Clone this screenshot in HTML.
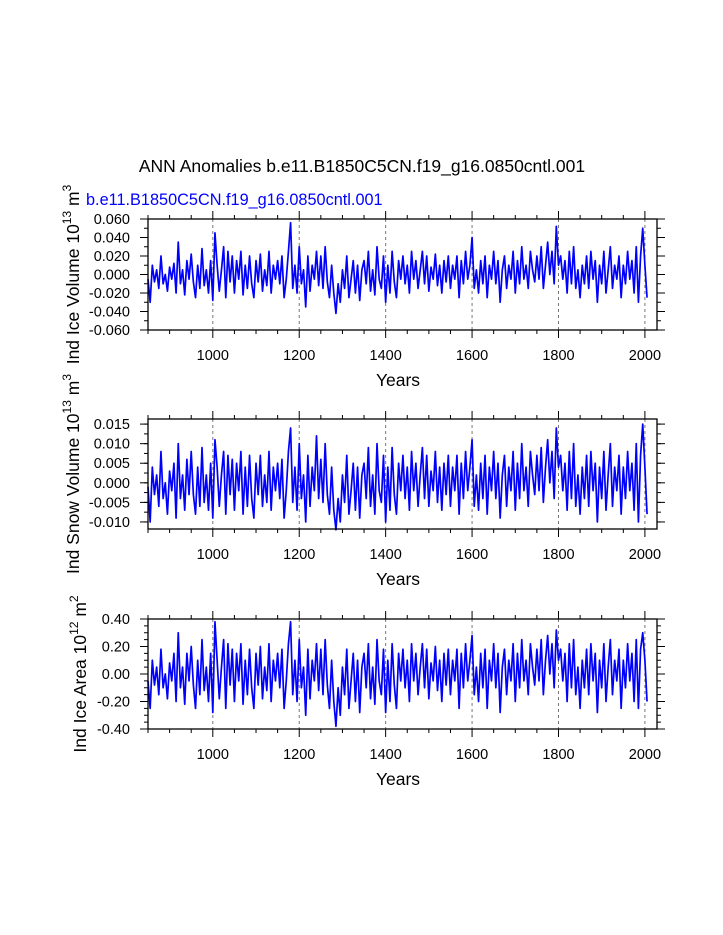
<!DOCTYPE html>
<html><head><meta charset="utf-8"><style>
html,body{margin:0;padding:0;background:#fff;}
svg{display:block;font-family:"Liberation Sans",Arial,sans-serif;}
</style></head><body>
<svg id="chart" width="723" height="935" viewBox="0 0 723 935" xmlns="http://www.w3.org/2000/svg">
<text x="362" y="172" font-size="17.5" text-anchor="middle">ANN Anomalies b.e11.B1850C5CN.f19_g16.0850cntl.001</text>
<text x="86" y="205" font-size="16.3" fill="#0000ff">b.e11.B1850C5CN.f19_g16.0850cntl.001</text>
<g id="panels"></g>
</svg>
<script>
const startYear = 850;
const stepYears = 5;
const xTicks = [1000,1200,1400,1600,1800,2000];
const iceVolTicks = [0.06,0.04,0.02,0,-0.02,-0.04,-0.06];
const iceVolLabels = ["0.060","0.040","0.020","0.000","-0.020","-0.040","-0.060"];
const snowTicks = [0.015,0.01,0.005,0,-0.005,-0.01];
const snowLabels = ["0.015","0.010","0.005","0.000","-0.005","-0.010"];
const areaTicks = [0.4,0.2,0,-0.2,-0.4];
const areaLabels = ["0.40","0.20","0.00","-0.20","-0.40"];
// values in thousandths
const iceVolume = [-5,-30,10,-8,5,-15,20,-10,0,-18,8,-5,12,-20,35,-10,5,-22,15,-5,
22,-8,-25,10,-15,28,-12,5,-20,15,-28,45,10,-18,5,30,-25,25,-8,20,
-20,15,-5,25,-22,10,-15,20,-10,-25,15,-8,22,-18,5,-12,25,-20,10,-5,
15,-10,20,-25,-5,25,56,-15,10,-20,30,-10,5,-35,20,-18,10,-5,25,-12,
20,-15,30,-8,-25,10,-20,-42,-10,-30,5,-15,20,-25,-5,15,-20,10,-28,5,
15,-10,25,-18,5,-22,30,-5,-15,20,-30,10,-20,25,-8,-25,15,-5,20,-10,
10,-20,25,-5,15,-15,5,25,-10,20,-18,8,-5,22,-12,10,-20,15,-8,20,
-15,10,-5,20,-25,15,-10,25,-5,10,40,-15,5,-20,15,-10,20,-25,10,-5,
25,-10,15,-30,5,20,-15,10,-5,25,-20,15,-10,30,-5,10,-15,25,5,-8,
20,-5,30,-15,10,35,0,25,-10,52,10,20,-5,15,-20,25,-10,30,-15,5,
-25,10,-10,20,-15,25,-5,15,-30,10,-10,25,-20,5,30,-15,10,-5,20,-25,
10,-10,25,-5,15,-20,30,-30,20,50,10,-25];
// values in thousandths
const snowVolume = [-1,-10,4,-3,2,-6,8,-4,0,-8,3,-2,5,-9,10,-4,2,-7,6,-3,
8,-3,-8,4,-6,9,-5,2,-7,5,-9,11,4,-6,2,8,-8,7,-3,6,
-7,5,-2,8,-8,4,-6,7,-4,-9,5,-3,7,-6,2,-5,8,-7,4,-2,
5,-4,6,-9,-2,8,14,-5,4,-7,10,-4,2,-10,7,-6,4,-2,12,-4,
6,-5,10,-3,-8,4,-7,-12,-4,-10,2,-5,7,-8,-2,5,-7,4,-9,2,
5,-4,9,-6,2,-8,10,-2,-5,7,-10,4,-7,9,-3,-8,5,-2,7,-4,
4,-7,8,-2,5,-6,2,9,-4,7,-6,3,-2,8,-5,4,-7,5,-3,7,
-6,4,-2,7,-8,5,-4,8,-2,4,11,-6,2,-7,5,-4,7,-8,4,-2,
8,-4,5,-9,2,7,-6,4,-2,8,-7,5,-4,10,-2,4,-6,8,2,-3,
7,-2,9,-5,4,11,0,8,-4,14,4,7,-2,5,-7,8,-4,10,-6,2,
-8,4,-4,7,-6,8,-2,5,-10,4,-4,8,-7,2,10,-6,4,-2,7,-8,
4,-4,8,-2,5,-7,10,-10,7,15,4,-8];
// values in hundredths
const iceArea = [-5,-25,10,-8,5,-15,18,-10,0,-18,8,-5,15,-20,30,-10,5,-22,15,-5,
20,-8,-25,10,-15,25,-12,5,-20,15,-28,38,10,-18,5,25,-25,22,-8,18,
-20,15,-5,22,-22,10,-15,18,-10,-25,15,-8,20,-18,5,-12,22,-20,10,-5,
15,-10,18,-25,-5,22,38,-15,10,-20,25,-10,5,-30,18,-18,10,-5,22,-12,
18,-15,25,-8,-25,10,-20,-38,-10,-30,5,-15,18,-25,-5,15,-20,10,-28,5,
15,-10,22,-18,5,-22,25,-5,-15,18,-28,10,-20,22,-8,-25,15,-5,18,-10,
10,-20,22,-5,15,-15,5,22,-10,18,-18,8,-5,20,-12,10,-20,15,-8,18,
-15,10,-5,18,-25,15,-10,22,-5,10,28,-15,5,-20,15,-10,18,-25,10,-5,
22,-10,15,-28,5,18,-15,10,-5,22,-20,15,-10,25,-5,10,-15,22,5,-8,
18,-5,25,-15,10,28,0,22,-10,32,10,18,-5,15,-20,22,-10,25,-15,5,
-25,10,-10,18,-15,22,-5,15,-28,10,-10,22,-20,5,25,-15,10,-5,18,-25,
10,-10,22,-5,15,-20,25,-25,18,30,10,-20];

const NS="http://www.w3.org/2000/svg";
const root=document.getElementById('panels');
const X0=148, X1=657, Y0=850, Y1=2028;
function xs(yr){return X0+(yr-Y0)/(Y1-Y0)*(X1-X0);}
function mk(tag,attrs,parent){const e=document.createElementNS(NS,tag);for(const k in attrs)e.setAttribute(k,attrs[k]);parent.appendChild(e);return e;}

function panel(id,top,bot,ymin,ymax,ticks,labels,minorStep,values,scale,titleParts,titleX){
  const g=mk('g',{},root);
  
  
  const ys=v=>bot-(v-ymin)/(ymax-ymin)*(bot-top);
  xTicks.forEach(t=>{const l=mk('line',{x1:xs(t),x2:xs(t),y1:top,y2:bot,stroke:'#777','stroke-width':1,'stroke-dasharray':'3,3'},g);
    
    });
  let d='';
  values.forEach((v,i)=>{const x=xs(startYear+i*stepYears),y=ys(v*scale);d+=(i?'L':'M')+x.toFixed(2)+' '+y.toFixed(2);});
  const p=mk('path',{d:d,fill:'none',stroke:'#0000ff','stroke-width':1.7,'stroke-linejoin':'round'},g);
  
  
  const r=mk('rect',{x:X0,y:top,width:X1-X0,height:bot-top,fill:'none',stroke:'#000','stroke-width':1.3},g);
  
  
  for(let yr=850;yr<=2025;yr+=50){
    const major=yr%200===0; const L=major?8:4; const x=xs(yr);
    mk('line',{x1:x,x2:x,y1:bot,y2:bot+L,stroke:'#000','stroke-width':1},g);
    mk('line',{x1:x,x2:x,y1:top,y2:top-L,stroke:'#000','stroke-width':1},g);
  }
  xTicks.forEach(t=>{const tx=mk('text',{x:xs(t),y:bot+30,'font-size':14.5,'text-anchor':'middle'},g);tx.textContent=t;
    
    });
  const yt=mk('text',{x:398,y:bot+56,'font-size':17.5,'text-anchor':'middle'},g);yt.textContent='Years';
  
  
  const first=Math.ceil(ymin/minorStep-1e-6);
  for(let k=first;k*minorStep<=ymax+1e-9;k++){
    const v=k*minorStep; const y=ys(v);
    mk('line',{x1:X0,x2:X0-4,y1:y,y2:y,stroke:'#000','stroke-width':1},g);
    mk('line',{x1:X1,x2:X1+4,y1:y,y2:y,stroke:'#000','stroke-width':1},g);
  }
  ticks.forEach((t,i)=>{const y=ys(t);
    mk('line',{x1:X0,x2:X0-8,y1:y,y2:y,stroke:'#000','stroke-width':1},g);
    mk('line',{x1:X1,x2:X1+8,y1:y,y2:y,stroke:'#000','stroke-width':1},g);
    const tx=mk('text',{x:130,y:y+5,'font-size':14.5,'text-anchor':'end'},g);tx.textContent=labels[i];
    
    });
  const cy=(top+bot)/2;
  const tt=mk('text',{x:0,y:0,'font-size':17.5,'text-anchor':'middle',transform:`translate(${titleX},${cy}) rotate(-90)`},g);
  
  
  titleParts.forEach(([s,sup])=>{
    if(sup){const ts=mk('tspan',{'font-size':12,dy:-8},tt);ts.textContent=s;const back=mk('tspan',{dy:8,'font-size':17.5},tt);back.textContent='\u200b';}
    else{const ts=mk('tspan',{},tt);ts.textContent=s;}
  });
}
panel('ice-volume',219,330,-0.06,0.06,iceVolTicks,iceVolLabels,0.01,iceVolume,0.001,
  [['Ind Ice Volume 10',0],['13',1],[' m',0],['3',1]],79);
panel('snow-volume',419,529,-0.0118,0.0163,snowTicks,snowLabels,0.0025,snowVolume,0.001,
  [['Ind Snow Volume 10',0],['13',1],[' m',0],['3',1]],79);
panel('ice-area',619,729,-0.4,0.4,areaTicks,areaLabels,0.05,iceArea,0.01,
  [['Ind Ice Area 10',0],['12',1],[' m',0],['2',1]],86);
</script>
</body></html>
